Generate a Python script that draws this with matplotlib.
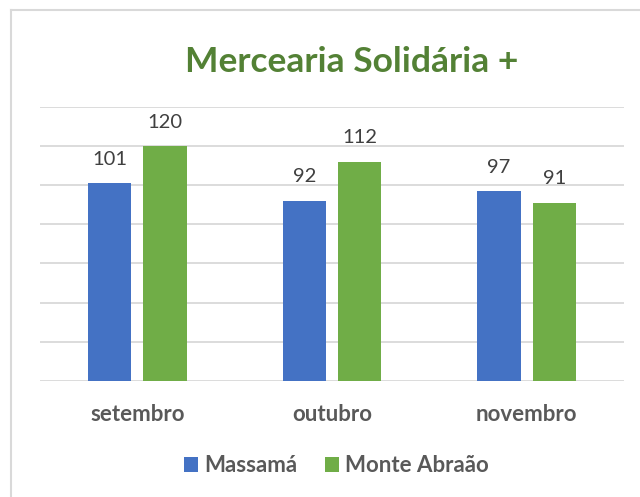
import matplotlib.pyplot as plt
from matplotlib.patches import Patch
from matplotlib.lines import Line2D
import numpy as np

months = ["setembro", "outubro", "novembro"]
series_names = ["Massamá", "Monte Abraão"]
massama = [101, 92, 97]
monte_abraao = [120, 112, 91]

blue = "#4472C4"
green = "#70AD47"
grid_col = "#D9D9D9"
text_col = "#595959"
label_col = "#404040"

plt.rcParams['font.family'] = ['Lato', 'DejaVu Sans']

W, H = 640, 497
fig = plt.figure(figsize=(W / 100, H / 100), dpi=100)

# axes box in pixels: left 40, right 624, top 106.7, bottom 381
ax = fig.add_axes([40 / W, 1 - 381 / H, 584 / W, (381 - 106.7) / H])

x = np.arange(len(months))
bw = 0.2226
off = 0.142
b1 = ax.bar(x - off, massama, bw, color=blue, zorder=3)
b2 = ax.bar(x + off, monte_abraao, bw, color=green, zorder=3)

for bars, vals in ((b1, massama), (b2, monte_abraao)):
    for rect, v in zip(bars, vals):
        ax.annotate(str(v), (rect.get_x() + rect.get_width() / 2, rect.get_height()),
                    xytext=(0, 13.2), textcoords="offset points",
                    ha="center", va="baseline", fontsize=14.5, color=label_col)

ax.set_xlim(-0.5, 2.5)
ax.set_ylim(0, 140)
ax.set_yticks(np.arange(0, 141, 20))
ax.yaxis.grid(True, color=grid_col, linewidth=1.3, zorder=0)
ax.set_yticklabels([])
ax.tick_params(axis="y", length=0)
ax.set_xticks(x)
ax.set_xticklabels(months, fontsize=16, fontweight="bold", color=text_col)
ax.tick_params(axis="x", length=0, pad=16.5)
for s in ax.spines.values():
    s.set_visible(False)

fig.text(352 / W, 1 - 72 / H, "Mercearia Solidária +", ha="center", va="baseline",
         fontsize=25.5, fontweight="bold", color="#538135")

handles = [Patch(facecolor=blue), Patch(facecolor=green)]
leg = fig.legend(handles, series_names, loc="center", bbox_to_anchor=(336.5 / W, 1 - 466 / H),
                 ncol=2, frameon=False, handlelength=0.63, handleheight=0.63,
                 handletextpad=0.27, columnspacing=1.26,
                 prop={"size": 16, "weight": "bold"})
for t in leg.get_texts():
    t.set_color(text_col)

# chart border (left and top edges visible)
fig.add_artist(Line2D([11 / W, 11 / W], [0, 1 - 10 / H], transform=fig.transFigure,
                      color=grid_col, linewidth=1.5))
fig.add_artist(Line2D([11 / W, 1], [1 - 10 / H, 1 - 10 / H], transform=fig.transFigure,
                      color=grid_col, linewidth=1.5))

fig.savefig("out.png", dpi=100)
